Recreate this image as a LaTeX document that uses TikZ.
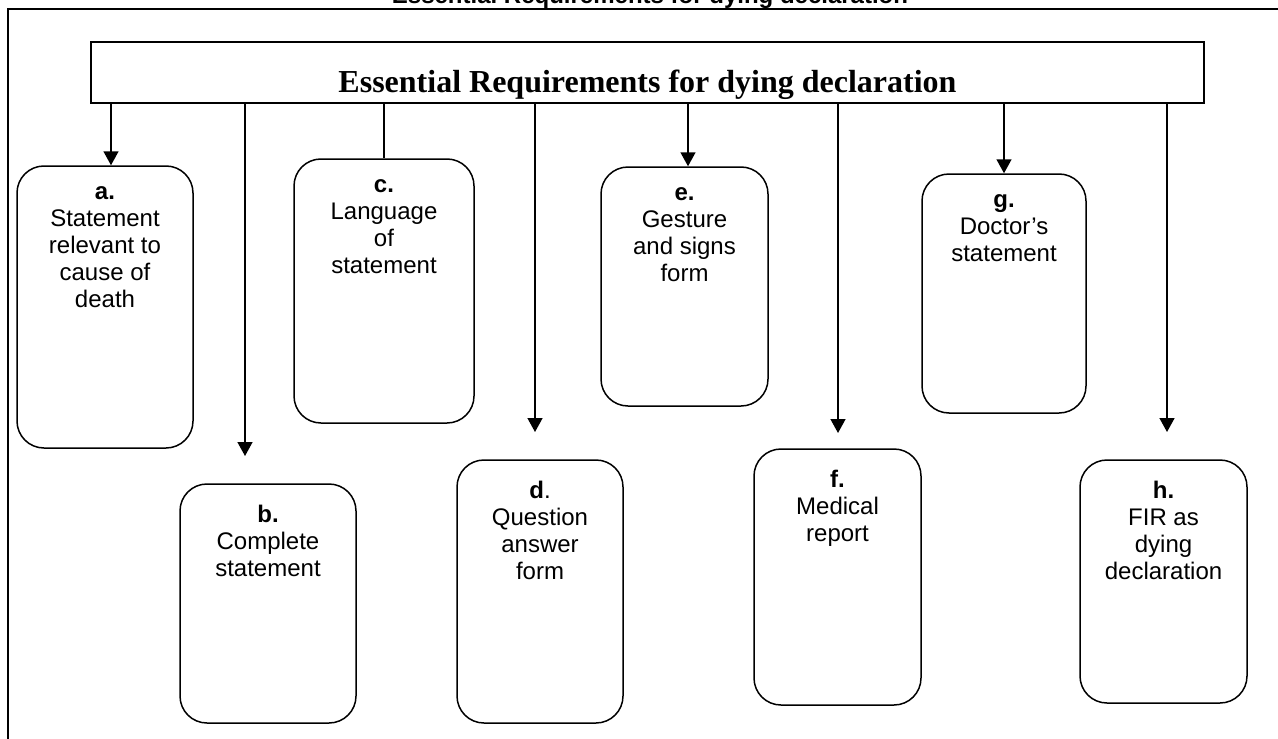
\documentclass[tikz,border=0pt]{standalone}
\usepackage{fontspec}
\setmainfont{Liberation Sans}
\newfontfamily\headserif{Liberation Serif}
\usetikzlibrary{positioning, calc}
\usetikzlibrary{arrows.meta}
\tikzstyle{roundbox}=[rectangle,rounded corners=13.5pt,line width=0.75pt,draw=black,inner sep=0pt]
\tikzstyle{headbox}=[rectangle,line width=1pt,draw=black,minimum width=556.5pt,minimum height=30.5pt,inner sep=0pt,text height=19.5pt,text depth=0pt,font=\headserif\bfseries\fontsize{16}{19}\selectfont]
\tikzstyle{boxtext}=[inner sep=0pt,align=center,font=\fontsize{12}{13.5}\selectfont,execute at begin node=\strut]
\tikzstyle{edgepath}=[-{Triangle[width=7.5pt,length=7pt]},line width=0.75pt]
\tikzstyle{plainpath}=[-,line width=0.75pt]

\begin{document}
\begin{tikzpicture}[x=0.5pt,y=-0.5pt]
    \useasboundingbox (0,0) rectangle (1278,738);
    \clip (0,0) rectangle (1278,738);
    \draw[line width=1pt] (1300,9) -- (8,9) -- (8,760);
    \node[anchor=base,inner sep=0pt,font=\bfseries\fontsize{12}{14}\selectfont] (ttl) at (650,3.5) {Essential Requirements for dying declaration};

    \node[headbox] (hdr) at (647.5,72.5) {Essential Requirements for dying declaration};

    \node[roundbox, minimum width=88pt, minimum height=141pt] (a) at (105,307) {};
    \node[boxtext, below=10.5pt of a.north] (ta) {\textbf{a.}\\Statement\\relevant to\\cause of\\death};

    \node[roundbox, minimum width=88pt, minimum height=119.5pt] (b) at (268,603.5) {};
    \node[boxtext, below=10.5pt of b.north] (tb) {\textbf{b.}\\Complete\\statement};

    \node[roundbox, minimum width=90pt, minimum height=132pt] (c) at (384,291) {};
    \node[boxtext, below=10.5pt of c.north] (tc) {\textbf{c.}\\Language\\of\\statement};

    \node[roundbox, minimum width=83pt, minimum height=131.5pt] (d) at (540,591.5) {};
    \node[boxtext, below=10.5pt of d.north] (td) {\textbf{d}.\\Question\\answer\\form};

    \node[roundbox, minimum width=83.5pt, minimum height=119.5pt] (e) at (684.5,286.5) {};
    \node[boxtext, below=10.5pt of e.north] (te) {\textbf{e.}\\Gesture\\and signs\\form};

    \node[roundbox, minimum width=83.5pt, minimum height=128pt] (f) at (837.5,577) {};
    \node[boxtext, below=10.5pt of f.north] (tf) {\textbf{f.}\\Medical\\report};

    \node[roundbox, minimum width=82pt, minimum height=119.5pt] (g) at (1004,293.5) {};
    \node[boxtext, below=10.5pt of g.north] (tg) {\textbf{g.}\\Doctor’s\\statement};

    \node[roundbox, minimum width=83.5pt, minimum height=121.5pt] (h) at (1163.5,581.5) {};
    \node[boxtext, below=10.5pt of h.north] (th) {\textbf{h.}\\FIR as\\dying\\declaration};

    \coordinate (bend) at (245,456);
    \coordinate (dend) at (535,432);
    \coordinate (fend) at (838,433);
    \coordinate (hend) at (1167,432);

    \path[edgepath]
    (hdr.south -| 111,0) edge (a.north -| 111,0)
    (hdr.south -| bend) edge (bend)
    (hdr.south -| dend) edge (dend)
    (hdr.south -| 688,0) edge (e.north -| 688,0)
    (hdr.south -| fend) edge (fend)
    (hdr.south -| g.north) edge (g.north)
    (hdr.south -| hend) edge (hend);
    \path[plainpath]
    (hdr.south -| c.north) edge (c.north);
\end{tikzpicture}
\end{document}
